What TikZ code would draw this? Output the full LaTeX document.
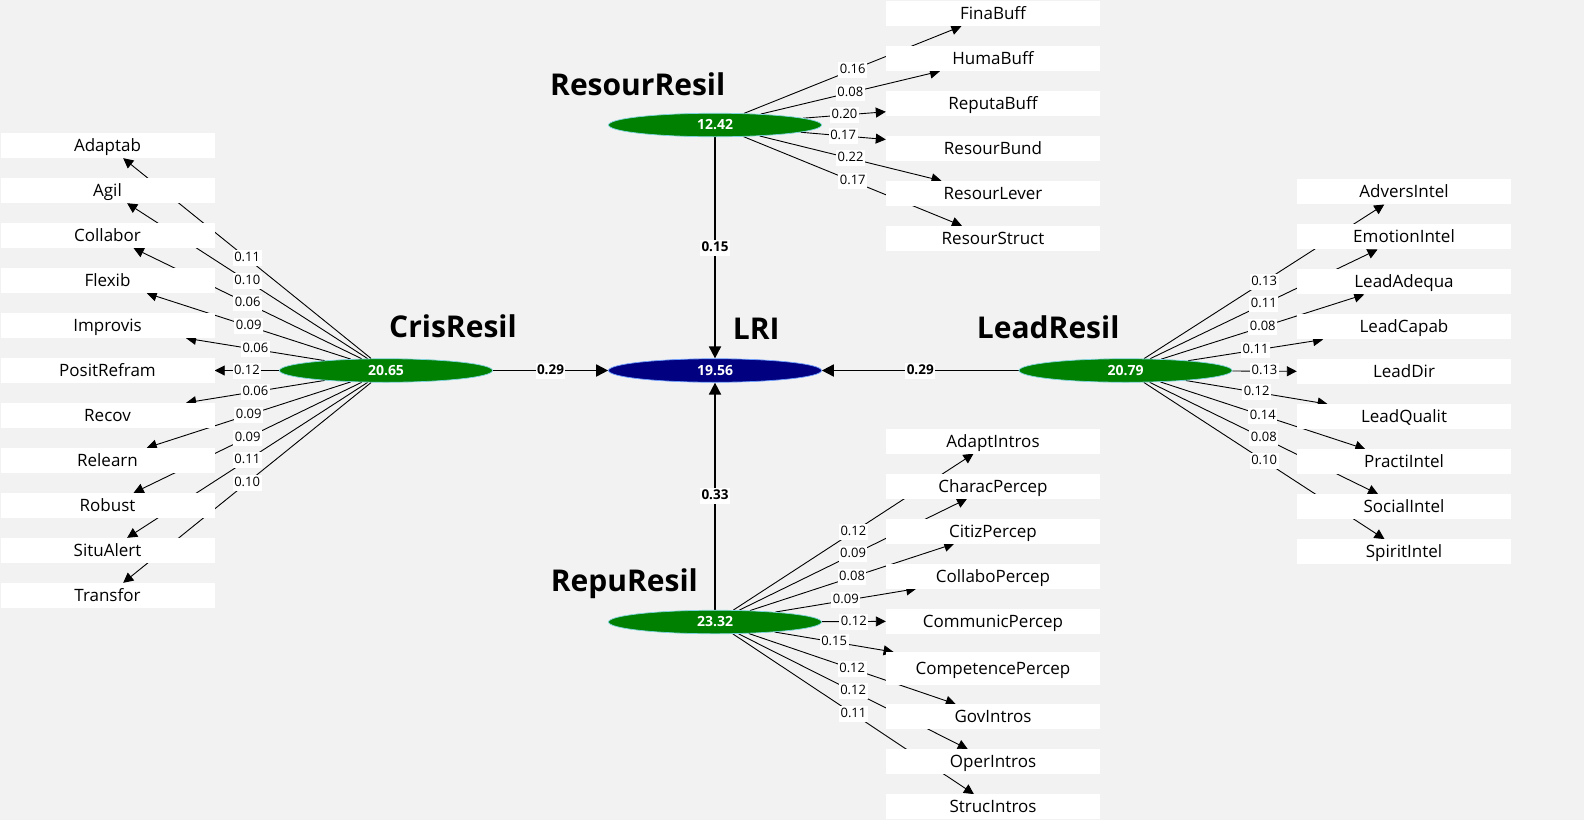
\documentclass[tikz,border=0pt]{standalone}
\usepackage{fontspec}
\setmainfont{Open Sans}
\usetikzlibrary{shapes.geometric,arrows.meta}
\pgfdeclarelayer{bg}
\pgfdeclarelayer{edges}
\pgfsetlayers{bg,edges,main}
\definecolor{bgcol}{HTML}{F2F2F2}
\definecolor{lvgreen}{HTML}{008000}
\definecolor{lvblue}{HTML}{000080}
\definecolor{lvrim}{HTML}{7FD3E0}
\definecolor{lvrimb}{HTML}{6F9FFF}
\tikzset{
 indbox/.style={rectangle,fill=white,minimum width=214pt,minimum height=25pt,inner sep=0pt,font=\fontsize{17}{19}\selectfont,text height=12.2pt,text depth=0pt},
 lv/.style={ellipse,fill=lvgreen,draw=lvrim,line width=0.7pt,minimum width=213pt,minimum height=23.5pt,inner sep=0pt,text=white,font=\bfseries\fontsize{14}{16}\selectfont},
 lvname/.style={anchor=base west,inner sep=0pt,font=\bfseries\fontsize{30}{34}\selectfont},
 lab/.style={fill=white,inner xsep=1.5pt,inner ysep=2pt,text height=9.5pt,text depth=2.5pt,font=\fontsize{13}{15}\selectfont},
 mainlab/.style={lab,font=\bfseries\fontsize{13.5}{15}\selectfont},
 indarrow/.style={draw=black,line width=0.9pt,-{Triangle[length=10pt,width=10pt]}},
 mainarrow/.style={draw=black,line width=1.8pt,-{Triangle[length=12pt,width=12pt]}},
}
\newcommand\indedge[3]{%
  \begin{pgfonlayer}{edges}\draw[indarrow] (#1) -- (#2);\end{pgfonlayer}%
  \path (#1) -- (#2) node[lab,midway]{#3};}
\newcommand\mainedge[3]{%
  \begin{pgfonlayer}{edges}\draw[mainarrow] (#1) -- (#2);\end{pgfonlayer}%
  \path (#1) -- (#2) node[mainlab,midway]{#3};}
\begin{document}
\begin{tikzpicture}[x=1pt,y=-1pt]
\useasboundingbox (0,0) rectangle (1584,820);
\begin{pgfonlayer}{bg}
\fill[bgcol] (0,0) rectangle (1584,820);
\end{pgfonlayer}

% latent variables
\node[lv] (ResourResil) at (715,125) {12.42};
\node[lv,fill=lvblue,draw=lvrimb] (LRI) at (715,370.5) {19.56};
\node[lv] (CrisResil) at (386,370.5) {20.65};
\node[lv] (LeadResil) at (1125.5,370.5) {20.79};
\node[lv] (RepuResil) at (715,622) {23.32};

\node[lvname] (tResourResil) at (550,95.7) {ResourResil};
\node[lvname] (tLRI) at (732.7,339) {LRI};
\node[lvname] (tCrisResil) at (389,337.7) {CrisResil};
\node[lvname] (tLeadResil) at (976.7,338.3) {LeadResil};
\node[lvname] (tRepuResil) at (550.7,591) {RepuResil};

% indicators
\foreach \n [count=\i from 0] in {Adaptab,Agil,Collabor,Flexib,Improvis,PositRefram,Recov,Relearn,Robust,SituAlert,Transfor}
  \node[indbox] (\n) at (107.5,{145.5+45*\i}) {\n};
\foreach \n [count=\i from 0] in {FinaBuff,HumaBuff,ReputaBuff,ResourBund,ResourLever,ResourStruct}
  \node[indbox] (\n) at (993,{13.5+45*\i}) {\n};
\foreach \n [count=\i from 0] in {AdversIntel,EmotionIntel,LeadAdequa,LeadCapab,LeadDir,LeadQualit,PractiIntel,SocialIntel,SpiritIntel}
  \node[indbox] (\n) at (1404,{191.8+45*\i}) {\n};
\foreach \n/\y in {AdaptIntros/441,CharacPercep/486,CitizPercep/531,CollaboPercep/576,CommunicPercep/621,GovIntros/716.8,OperIntros/761.8,StrucIntros/806.8}
  \node[indbox] (\n) at (993,\y) {\n};
\node[indbox,minimum height=33pt] (CompetencePercep) at (993,668.7) {CompetencePercep};

% structural paths
\mainedge{ResourResil}{LRI}{0.15}
\mainedge{CrisResil}{LRI}{0.29}
\mainedge{LeadResil}{LRI}{0.29}
\mainedge{RepuResil}{LRI}{0.33}

% outer weights
\foreach \n/\v in {Adaptab/0.11,Agil/0.10,Collabor/0.06,Flexib/0.09,Improvis/0.06,PositRefram/0.12,Recov/0.06,Relearn/0.09,Robust/0.09,SituAlert/0.11,Transfor/0.10}
  {\indedge{CrisResil}{\n}{\v}}
\foreach \n/\v in {FinaBuff/0.16,HumaBuff/0.08,ReputaBuff/0.20,ResourBund/0.17,ResourLever/0.22,ResourStruct/0.17}
  {\indedge{ResourResil}{\n}{\v}}
\foreach \n/\v in {AdversIntel/0.13,EmotionIntel/0.11,LeadAdequa/0.08,LeadCapab/0.11,LeadDir/0.13,LeadQualit/0.12,PractiIntel/0.14,SocialIntel/0.08,SpiritIntel/0.10}
  {\indedge{LeadResil}{\n}{\v}}
\foreach \n/\v in {AdaptIntros/0.12,CharacPercep/0.09,CitizPercep/0.08,CollaboPercep/0.09,CommunicPercep/0.12,CompetencePercep/0.15,GovIntros/0.12,OperIntros/0.12,StrucIntros/0.11}
  {\indedge{RepuResil}{\n}{\v}}
\end{tikzpicture}
\end{document}
